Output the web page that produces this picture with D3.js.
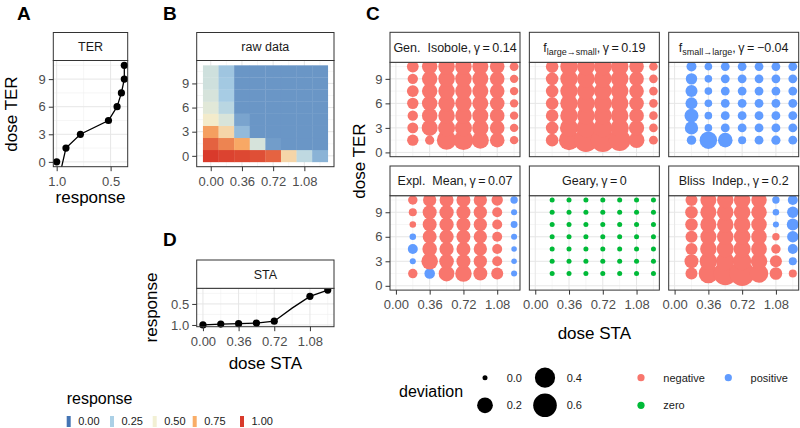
<!DOCTYPE html>
<html><head><meta charset="utf-8">
<script src="https://cdn.jsdelivr.net/npm/d3@7/dist/d3.min.js"></script>
<style>
html,body{margin:0;padding:0;background:#fff;}
svg text{font-family:"Liberation Sans",Arial,Helvetica,sans-serif;}
</style></head><body>
<svg id="chart" width="800" height="428"></svg>
<script>
// ---------------- data ----------------
const staDoses = [0, 0.18, 0.36, 0.54, 0.72, 0.90, 1.08, 1.26];
const terDoses = [0, 1.5, 3, 4.5, 6, 7.5, 9, 10.5];
// raw response: rows = TER dose (0 .. 10.5), columns = STA dose (0 .. 1.26)
const rawResponse = [
  [1.000, 0.980, 0.970, 0.955, 0.910, 0.600, 0.320, 0.170],
  [0.914, 0.840, 0.760, 0.400, 0.110, 0.090, 0.090, 0.090],
  [0.780, 0.600, 0.190, 0.090, 0.090, 0.090, 0.090, 0.090],
  [0.520, 0.410, 0.130, 0.090, 0.090, 0.090, 0.090, 0.090],
  [0.440, 0.300, 0.090, 0.090, 0.090, 0.090, 0.090, 0.090],
  [0.400, 0.240, 0.090, 0.090, 0.090, 0.090, 0.090, 0.090],
  [0.373, 0.230, 0.090, 0.090, 0.090, 0.090, 0.090, 0.090],
  [0.373, 0.220, 0.090, 0.090, 0.090, 0.090, 0.090, 0.090]
];
const terFitStart = {dose: -0.6, response: 0.955};
const staPointHidden = [0.90];
const staTicks = [0, 0.36, 0.72, 1.08];
const staMinor = [0.18, 0.54, 0.90, 1.26];
const terTicks = [0, 3, 6, 9];
const terMinor = [1.5, 4.5, 7.5, 10.5];
const respTicksA = [1.0, 0.5];
const respMinorA = [0.75];
const respTicksD = [0.5, 1.0];
const respMinorD = [0.25, 0.75];
const legendResponse = [0, 0.25, 0.5, 0.75, 1];
const responseColors = ["#4575b4", "#abd0e6", "#f2f0d4", "#f9ad67", "#d93a2b"];

const facetNames = ["Gen.\u00a0\u00a0Isobole", "f_{large\u2192small}", "f_{small\u2192large}", "Expl.\u00a0\u00a0Mean", "Geary", "Bliss\u00a0\u00a0Indep."];
const facetGamma = ["0.14", "0.19", "\u22120.04", "0.07", "0", "0.2"];
// deviation per facet: rows = TER dose 1.5 .. 10.5, columns = STA dose 0.18 .. 1.26
const devIsobole = [
  [-0.07, -0.03, -0.36, -0.38, -0.25, -0.16, -0.020],
  [-0.06, -0.21, -0.25, -0.25, -0.22, -0.16, -0.020],
  [-0.05, -0.19, -0.23, -0.23, -0.21, -0.16, -0.020],
  [-0.07, -0.19, -0.23, -0.23, -0.21, -0.16, -0.020],
  [-0.08, -0.19, -0.23, -0.23, -0.21, -0.16, -0.020],
  [-0.05, -0.19, -0.23, -0.23, -0.21, -0.16, -0.020],
  [-0.08, -0.19, -0.23, -0.23, -0.21, -0.16, -0.025]
];
const devLargeSmall = [
  [-0.10, -0.40, -0.60, -0.62, -0.48, -0.20, -0.025],
  [-0.10, -0.30, -0.34, -0.34, -0.31, -0.18, -0.022],
  [-0.10, -0.27, -0.28, -0.28, -0.27, -0.16, -0.022],
  [-0.10, -0.27, -0.28, -0.28, -0.27, -0.16, -0.022],
  [-0.10, -0.27, -0.28, -0.28, -0.27, -0.16, -0.022],
  [-0.10, -0.27, -0.28, -0.28, -0.27, -0.16, -0.022],
  [-0.10, -0.27, -0.28, -0.28, -0.27, -0.16, -0.022]
];
const devSmallLarge = [
  [0.034, 0.270, 0.160, 0.016, 0.025, 0.030, 0.025],
  [0.120, 0.012, 0.025, 0.025, 0.025, 0.025, 0.025],
  [0.140, 0.012, 0.025, 0.025, 0.025, 0.025, 0.025],
  [0.085, 0.012, 0.025, 0.025, 0.025, 0.025, 0.025],
  [0.085, 0.012, 0.025, 0.025, 0.025, 0.025, 0.025],
  [0.071, 0.012, 0.025, 0.025, 0.025, 0.025, 0.025],
  [0.043, 0.012, 0.025, 0.025, 0.025, 0.025, 0.025]
];
const devExplMean = [
  [-0.034, 0.054, -0.20, -0.23, -0.14, -0.085, 0.002],
  [0.002, -0.23, -0.16, -0.14, -0.12, -0.043, 0.0005],
  [0.043, -0.16, -0.15, -0.14, -0.12, -0.043, 0.0005],
  [0.004, -0.14, -0.15, -0.14, -0.12, -0.043, 0.002],
  [-0.004, -0.14, -0.15, -0.14, -0.12, -0.043, 0.006],
  [-0.016, -0.14, -0.15, -0.14, -0.12, -0.043, 0.002],
  [-0.034, -0.12, -0.14, -0.14, -0.12, -0.071, 0.010]
];
const devGeary = [
  [0, 0, 0, 0, 0, 0, 0],
  [0, 0, 0, 0, 0, 0, 0],
  [0, 0, 0, 0, 0, 0, 0],
  [0, 0, 0, 0, 0, 0, 0],
  [0, 0, 0, 0, 0, 0, 0],
  [0, 0, 0, 0, 0, 0, 0],
  [0, 0, 0, 0, 0, 0, 0]
];
const devBliss = [
  [-0.085, -0.36, -0.59, -0.69, -0.32, -0.100, -0.016],
  [-0.140, -0.27, -0.30, -0.30, -0.23, -0.085, 0.016],
  [-0.085, -0.23, -0.25, -0.25, -0.20, -0.034, 0.043],
  [-0.085, -0.21, -0.23, -0.23, -0.19, -0.010, 0.071],
  [-0.100, -0.21, -0.23, -0.23, -0.19, 0.002, 0.085],
  [-0.100, -0.21, -0.23, -0.23, -0.19, 0.004, 0.071],
  [-0.085, -0.21, -0.23, -0.23, -0.19, 0.010, 0.043]
];
const deviations = [devIsobole, devLargeSmall, devSmallLarge, devExplMean, devGeary, devBliss];
const sizeLegend = [0, 0.2, 0.4, 0.6];
const signLevels = ["negative", "positive", "zero"];
const signColors = ["#F8766D", "#619CFF", "#00BA38"];

// ---------------- helpers ----------------
const FONT = '"Liberation Sans", Arial, Helvetica, sans-serif';
const svg = d3.select("#chart");
const fmt2 = d3.format(".2f");
const fmt1 = d3.format(".1f");
const fmt0 = d3.format("d");
const respColor = d3.scaleLinear().domain(legendResponse).range(responseColors).interpolate(d3.interpolateRgb);
const signColor = d3.scaleOrdinal().domain(signLevels).range(signColors);
const rScale = d3.scaleSqrt().domain([0, 0.6]).range([2.5, 11.8]);
const signOf = v => v < 0 ? "negative" : (v > 0 ? "positive" : "zero");
let clipId = 0;

function expand(lo, hi) { const e = (hi - lo) * 0.05; return [lo - e, hi + e]; }

function panelBg(box, xs, ys, xMaj, xMin, yMaj, yMin) {
  const g = svg.append("g");
  g.append("rect").attr("x", box.x0).attr("y", box.y0).attr("width", box.x1 - box.x0).attr("height", box.y1 - box.y0).attr("fill", "#fff");
  const inX = v => { const p = xs(v); return p >= box.x0 && p <= box.x1; };
  const inY = v => { const p = ys(v); return p >= box.y0 && p <= box.y1; };
  g.selectAll(".xmin").data(xMin.filter(inX)).join("line").attr("x1", d => xs(d)).attr("x2", d => xs(d)).attr("y1", box.y0).attr("y2", box.y1).attr("stroke", "#f0f0f0").attr("stroke-width", 0.6);
  g.selectAll(".ymin").data(yMin.filter(inY)).join("line").attr("y1", d => ys(d)).attr("y2", d => ys(d)).attr("x1", box.x0).attr("x2", box.x1).attr("stroke", "#f0f0f0").attr("stroke-width", 0.6);
  g.selectAll(".xmaj").data(xMaj.filter(inX)).join("line").attr("x1", d => xs(d)).attr("x2", d => xs(d)).attr("y1", box.y0).attr("y2", box.y1).attr("stroke", "#e6e6e6").attr("stroke-width", 1);
  g.selectAll(".ymaj").data(yMaj.filter(inY)).join("line").attr("y1", d => ys(d)).attr("y2", d => ys(d)).attr("x1", box.x0).attr("x2", box.x1).attr("stroke", "#e6e6e6").attr("stroke-width", 1);
  return g;
}
function clipFor(box) {
  const id = "clip" + (clipId++);
  svg.append("clipPath").attr("id", id).append("rect").attr("x", box.x0).attr("y", box.y0).attr("width", box.x1 - box.x0).attr("height", box.y1 - box.y0);
  return "url(#" + id + ")";
}
function border(box) {
  svg.append("rect").attr("x", box.x0).attr("y", box.y0).attr("width", box.x1 - box.x0).attr("height", box.y1 - box.y0).attr("fill", "none").attr("stroke", "#333").attr("stroke-width", 1);
}
function strip(box, top, label) {
  svg.append("rect").attr("x", box.x0).attr("y", top).attr("width", box.x1 - box.x0).attr("height", box.y0 - top).attr("fill", "#fff").attr("stroke", "#333").attr("stroke-width", 1);
  const t = svg.append("text").attr("x", (box.x0 + box.x1) / 2).attr("y", (top + box.y0) / 2 + 4.5).attr("text-anchor", "middle").attr("font-size", 12.5).attr("fill", "#1a1a1a");
  if (typeof label === "string") t.text(label); else label(t);
}
function styleAxis(g) {
  g.attr("font-family", FONT).attr("font-size", 13);
  g.select(".domain").remove();
  g.selectAll(".tick line").attr("stroke", "#333");
  g.selectAll(".tick text").attr("fill", "#4d4d4d");
}
function xAxis(box, xs, ticks, fmt) {
  const g = svg.append("g").attr("transform", `translate(0,${box.y1})`).call(d3.axisBottom(xs).tickValues(ticks).tickFormat(fmt).tickSize(4.5).tickPadding(5.5));
  styleAxis(g);
}
function yAxis(box, ys, ticks, fmt) {
  const g = svg.append("g").attr("transform", `translate(${box.x0},0)`).call(d3.axisLeft(ys).tickValues(ticks).tickFormat(fmt).tickSize(4.5).tickPadding(3));
  styleAxis(g);
}
function title(x, y, txt, rotate) {
  const t = svg.append("text").attr("font-size", 17).attr("fill", "#000").attr("text-anchor", "middle").text(txt);
  if (rotate) t.attr("transform", `translate(${x},${y}) rotate(-90)`); else t.attr("x", x).attr("y", y);
}
function tag(x, y, txt) {
  svg.append("text").attr("x", x).attr("y", y).attr("font-size", 19).attr("font-weight", "bold").text(txt);
}

// ---------------- Panel A ----------------
{
  const box = {x0: 53.3, x1: 127.7, y0: 60.5, y1: 166.7};
  const terResp = rawResponse.map(r => r[0]);
  const xd = expand(d3.min(terResp), d3.max(terResp));
  const xs = d3.scaleLinear().domain([xd[1], xd[0]]).range([box.x0, box.x1]);
  const ys = d3.scaleLinear().domain(expand(0, d3.max(terDoses))).range([box.y1, box.y0]);
  panelBg(box, xs, ys, respTicksA, respMinorA, terTicks, terMinor);
  const pts = terDoses.map((d, i) => ({dose: d, response: terResp[i]}));
  const lineData = [terFitStart].concat(pts.filter(p => p.dose > 0));
  svg.append("path").datum(lineData).attr("clip-path", clipFor(box)).attr("fill", "none").attr("stroke", "#000").attr("stroke-width", 1.3)
    .attr("d", d3.line().x(d => xs(d.response)).y(d => ys(d.dose)));
  svg.append("g").selectAll("circle").data(pts).join("circle").attr("cx", d => xs(d.response)).attr("cy", d => ys(d.dose)).attr("r", 3.6).attr("fill", "#000");
  border(box);
  strip(box, 32.5, "TER");
  xAxis(box, xs, respTicksA, fmt1);
  yAxis(box, ys, terTicks, fmt0);
  title((box.x0 + box.x1) / 2, 203, "response");
  title(16.7, 114, "dose TER", true);
  tag(17, 20, "A");
}

// ---------------- Panel B ----------------
{
  const box = {x0: 196.7, x1: 334, y0: 60.5, y1: 166.7};
  const xs = d3.scaleLinear().domain(expand(-0.09, 1.35)).range([box.x0, box.x1]);
  const ys = d3.scaleLinear().domain(expand(-0.75, 11.25)).range([box.y1, box.y0]);
  panelBg(box, xs, ys, staTicks, staMinor, terTicks, terMinor);
  const cells = [];
  rawResponse.forEach((row, i) => row.forEach((v, j) => cells.push({ter: terDoses[i], sta: staDoses[j], v})));
  svg.append("g").selectAll("rect").data(cells).join("rect")
    .attr("x", d => xs(d.sta - 0.09)).attr("width", d => xs(d.sta + 0.09) - xs(d.sta - 0.09) + 0.3)
    .attr("y", d => ys(d.ter + 0.75)).attr("height", d => ys(d.ter - 0.75) - ys(d.ter + 0.75) + 0.3)
    .attr("fill", d => respColor(d.v));
  border(box);
  strip(box, 32.5, "raw data");
  xAxis(box, xs, staTicks, fmt2);
  yAxis(box, ys, terTicks, fmt0);
  tag(163, 20, "B");
}

// ---------------- Panel D ----------------
{
  const box = {x0: 196.7, x1: 334, y0: 288.3, y1: 326.7};
  const staResp = rawResponse[0];
  const xs = d3.scaleLinear().domain(expand(0, d3.max(staDoses))).range([box.x0, box.x1]);
  const yd = expand(d3.min(staResp), d3.max(staResp));
  const ys = d3.scaleLinear().domain([yd[1], yd[0]]).range([box.y1, box.y0]);
  panelBg(box, xs, ys, staTicks, staMinor, respTicksD, respMinorD);
  const pts = staDoses.map((d, i) => ({dose: d, response: staResp[i]}));
  svg.append("path").datum(pts).attr("fill", "none").attr("stroke", "#000").attr("stroke-width", 1.3)
    .attr("d", d3.line().x(d => xs(d.dose)).y(d => ys(d.response)));
  svg.append("g").selectAll("circle").data(pts.filter(p => !staPointHidden.includes(p.dose))).join("circle")
    .attr("cx", d => xs(d.dose)).attr("cy", d => ys(d.response)).attr("r", 3.6).attr("fill", "#000");
  border(box);
  strip(box, 260, "STA");
  xAxis(box, xs, staTicks, fmt2);
  yAxis(box, ys, respTicksD, fmt1);
  title((box.x0 + box.x1) / 2, 369, "dose STA");
  title(157, 307.5, "response", true);
  tag(163, 246, "D");
}

// ---------------- Panel C ----------------
{
  const colX = [390, 529.35, 668.7], pw = 130;
  const rowTop = [32.3, 166], stripH = [30, 29.7], ph = 94.4;
  facetNames.forEach((name, f) => {
    const c = f % 3, r = Math.floor(f / 3);
    const box = {x0: colX[c], x1: colX[c] + pw, y0: rowTop[r] + stripH[r], y1: rowTop[r] + stripH[r] + ph};
    const xs = d3.scaleLinear().domain(expand(0, d3.max(staDoses))).range([box.x0, box.x1]);
    const ys = d3.scaleLinear().domain(expand(0, d3.max(terDoses))).range([box.y1, box.y0]);
    panelBg(box, xs, ys, staTicks, staMinor, terTicks, terMinor);
    const pts = [];
    deviations[f].forEach((row, i) => row.forEach((v, j) => pts.push({ter: terDoses[i + 1], sta: staDoses[j + 1], v})));
    svg.append("g").attr("clip-path", clipFor(box)).selectAll("circle").data(pts).join("circle")
      .attr("cx", d => xs(d.sta)).attr("cy", d => ys(d.ter)).attr("r", d => rScale(Math.abs(d.v)))
      .attr("fill", d => signColor(signOf(d.v)));
    border(box);
    strip(box, rowTop[r], t => {
      const m = name.match(/^(.*)_\{(.*)\}$/);
      if (m) {
        t.append("tspan").text(m[1]);
        t.append("tspan").attr("font-size", 9).attr("dy", 3).text(m[2]);
        t.append("tspan").attr("dy", -3).text(",\u2009\u03b3\u2009=\u2009" + facetGamma[f]);
      } else {
        t.text(name + ",\u2009\u03b3\u2009=\u2009" + facetGamma[f]);
      }
    });
    if (r === 1) xAxis(box, xs, staTicks, fmt2);
    if (c === 0) yAxis(box, ys, terTicks, fmt0);
  });
  title((colX[0] + colX[2] + pw) / 2, 339, "dose STA");
  title(365, 161, "dose TER", true);
  tag(366, 20, "C");
}

// ---------------- Legends ----------------
{
  const g = svg.append("g");
  g.append("text").attr("x", 66.7).attr("y", 404).attr("font-size", 16).text("response");
  const keyX = [66.7, 110, 152.7, 192.7, 240];
  legendResponse.forEach((v, i) => {
    g.append("rect").attr("x", keyX[i]).attr("y", 416).attr("width", 4).attr("height", 11).attr("fill", respColor(v));
    g.append("text").attr("x", keyX[i] + 11.5).attr("y", 425).attr("font-size", 11).attr("fill", "#1a1a1a").text(fmt2(v));
  });

  g.append("text").attr("x", 399).attr("y", 396.5).attr("font-size", 16).text("deviation");
  const sPos = [[485, 377.7], [485, 405.3], [545, 377.7], [545, 405.3]];
  sizeLegend.forEach((v, i) => {
    g.append("circle").attr("cx", sPos[i][0]).attr("cy", sPos[i][1]).attr("r", rScale(v)).attr("fill", "#000");
    g.append("text").attr("x", sPos[i][0] + 21.7).attr("y", sPos[i][1] + 4).attr("font-size", 11).attr("fill", "#1a1a1a").text(fmt1(v));
  });
  const cPos = [[641, 377.7], [728.3, 377.7], [641, 405.3]];
  signLevels.forEach((s, i) => {
    g.append("circle").attr("cx", cPos[i][0]).attr("cy", cPos[i][1]).attr("r", 3.6).attr("fill", signColor(s));
    g.append("text").attr("x", cPos[i][0] + 22.3).attr("y", cPos[i][1] + 4).attr("font-size", 11).attr("fill", "#1a1a1a").text(s);
  });
}
</script>
</body></html>
